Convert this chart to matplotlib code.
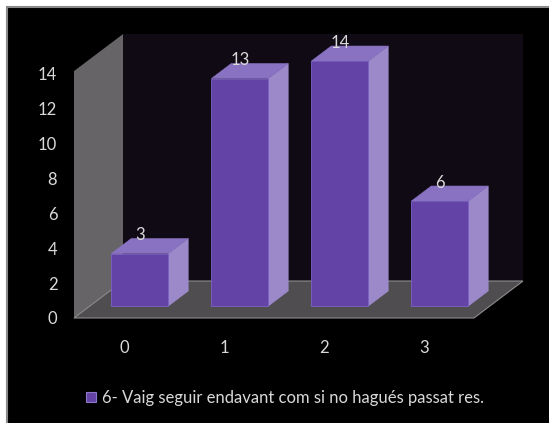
import matplotlib
matplotlib.use("Agg")
import matplotlib.pyplot as plt
from matplotlib.patches import Polygon, Rectangle, Patch

# ---- data ----
categories = ["0", "1", "2", "3"]
values = [3, 13, 14, 6]
series_name = "6- Vaig seguir endavant com si no hagués passat res."
y_ticks = [0, 2, 4, 6, 8, 10, 12, 14]

# ---- style ----
plt.rcParams["font.family"] = ["Lato", "DejaVu Sans"]
TEXT = "#d9d9d9"
FRONT = "#6443a6"
TOP = "#8a72c2"
SIDE = "#9c89ca"
EDGE = "#7c62c6"
BACK_WALL = "#0f0a14"
SIDE_WALL = "#676468"
FLOOR = "#504d51"

W, H = 549, 423
fig = plt.figure(figsize=(W / 100, H / 100), dpi=100, facecolor="white")

# dark chart area with a grey frame (behind the axes)
fig.patches.append(Rectangle((7 / W, -0.05), 1.1, 1 - 7 / H + 0.05,
                             transform=fig.transFigure, facecolor="black",
                             edgecolor="#8a8a8a", linewidth=1.5, zorder=-10))

# front plane of the 3-D box
ax = fig.add_axes([74 / W, 1 - 318 / H, 400 / W, 245 / H])
ymax = 14
wall_top = ymax + 0.11
ax.set_xlim(-0.5, len(categories) - 0.5)
ax.set_ylim(0, ymax)
ax.set_facecolor("none")
for s in ax.spines.values():
    s.set_visible(False)

# depth offset of the box (in data units)
DX = 0.49
DY = 2.114
x0b, x1b = -0.5, len(categories) - 0.5

back = Polygon([(x0b + DX, DY), (x1b + DX, DY), (x1b + DX, wall_top + DY), (x0b + DX, wall_top + DY)],
               closed=True, facecolor=BACK_WALL, edgecolor="none", zorder=1, clip_on=False)
left = Polygon([(x0b, 0), (x0b + DX, DY), (x0b + DX, wall_top + DY), (x0b, wall_top)],
               closed=True, facecolor=SIDE_WALL, edgecolor="none", zorder=2, clip_on=False)
floor = Polygon([(x0b, 0), (x1b, 0), (x1b + DX, DY), (x0b + DX, DY)],
                closed=True, facecolor=FLOOR, edgecolor="#8c8c8c", linewidth=0.8,
                zorder=3, clip_on=False)
for p in (back, left, floor):
    ax.add_patch(p)

# bars
width = 0.57
f0, fd = 0.324, 0.405          # front position and depth of bars, as fraction of box depth
ddx, ddy = fd * DX, fd * DY
for i, v in enumerate(values):
    xa = i - width / 2 + f0 * DX
    xb = xa + width
    ya = f0 * DY
    yb = ya + v
    front = Polygon([(xa, ya), (xb, ya), (xb, yb), (xa, yb)], closed=True,
                    facecolor=FRONT, edgecolor=EDGE, linewidth=0.6, zorder=5, clip_on=False)
    side = Polygon([(xb, ya), (xb + ddx, ya + ddy), (xb + ddx, yb + ddy), (xb, yb)], closed=True,
                   facecolor=SIDE, edgecolor=SIDE, linewidth=0.4, zorder=4, clip_on=False)
    top = Polygon([(xa, yb), (xb, yb), (xb + ddx, yb + ddy), (xa + ddx, yb + ddy)], closed=True,
                  facecolor=TOP, edgecolor=TOP, linewidth=0.4, zorder=4, clip_on=False)
    for p in (side, top, front):
        ax.add_patch(p)
    ax.text(i + f0 * DX, yb + ddy - 0.1, str(v), ha="center", va="baseline",
            color=TEXT, fontsize=12, zorder=6, clip_on=False)

ax.set_xticks(range(len(categories)))
ax.set_xticklabels(categories)
ax.set_yticks(y_ticks)
ax.tick_params(axis="both", length=0, colors=TEXT, labelsize=12)
ax.tick_params(axis="y", pad=12)
ax.tick_params(axis="x", pad=16)

handle = Patch(facecolor=FRONT, edgecolor="#8a78c8", linewidth=0.8)
fig.legend([handle], [series_name], loc="center", bbox_to_anchor=(285 / W, 1 - 398 / H),
           frameon=False, fontsize=12, labelcolor=TEXT, handlelength=0.6,
           handleheight=0.6, handletextpad=0.35, borderpad=0)

fig.savefig("out.png", dpi=100, facecolor=fig.get_facecolor())
